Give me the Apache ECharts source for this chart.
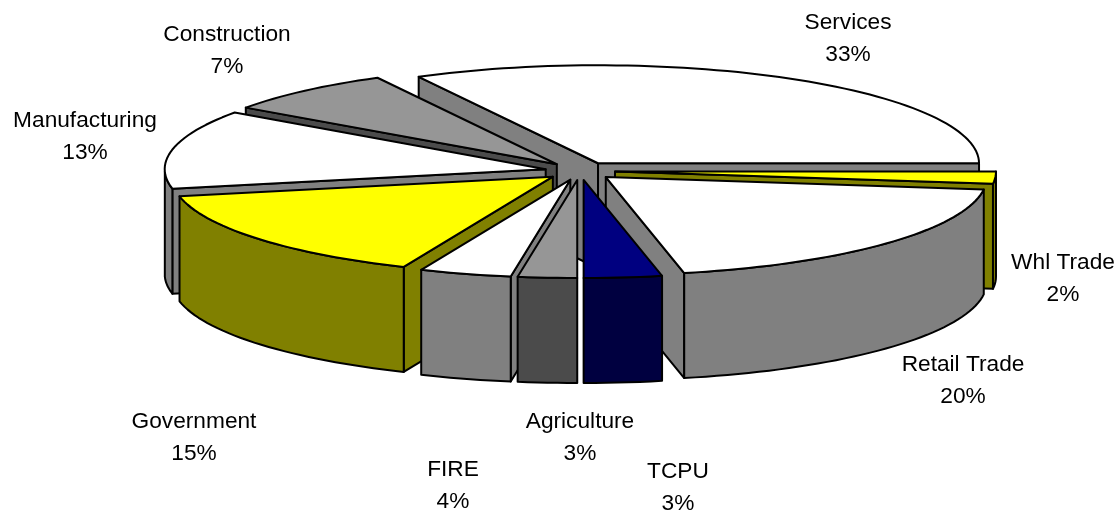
<!DOCTYPE html>
<html>
<head>
<meta charset="utf-8">
<style>html,body{margin:0;padding:0;background:#fff}#chart{width:1117px;height:512px}</style>
<script src="https://cdn.jsdelivr.net/npm/echarts@6/dist/echarts.min.js"></script>
</head>
<body>
<div id="chart"></div>
<script>
// clockwise from the east edge of the Services slice
const sectors = ['Whl Trade','Retail Trade','TCPU','Agriculture','FIRE','Government','Manufacturing','Construction','Services'];
const shares = [2,19.7,3.3,2.5,3.9,15.4,13,7.4,32.8];
const topColors = ['#ffff00','#ffffff','#000080','#969696','#ffffff','#ffff00','#ffffff','#969696','#ffffff'];
const sideColors = ['#808000','#808080','#000040','#4b4b4b','#808080','#808000','#808080','#4b4b4b','#808080'];

// pie look
const explode = 0.092;
const depth = 105;
const rx = 381, ry = 98;       // px per unit on the hidden axes
const cx = 580, cy = 171;

// label anchors (centre of the two lines)
const labelSpots = {
  'Services': [848,39], 'Whl Trade': [1063,279], 'Retail Trade': [963,381], 'TCPU': [678,488],
  'Agriculture': [580,438], 'FIRE': [453,486], 'Government': [194,438], 'Manufacturing': [85,137], 'Construction': [227,51]
};

const total = shares.reduce((a,b)=>a+b,0);
let run = 0;
const slices = shares.map((v,i)=>{
  const a0 = -run/total*Math.PI*2;
  run += v;
  const a1 = -run/total*Math.PI*2;
  return {i,a0,a1,mid:(a0+a1)/2};
});
// back to front
const drawOrder = slices.slice().sort((p,q)=>Math.sin(q.mid)-Math.sin(p.mid));

function renderSlice(params, api){
  const s = slices[api.value(0)];
  const ox = explode*Math.cos(s.mid), oy = explode*Math.sin(s.mid);
  const pt = (a,r)=>api.coord([ox+r*Math.cos(a), oy+r*Math.sin(a)]);
  const down = p=>[p[0],p[1]+depth];
  const line = {stroke:'#000',lineWidth:2,lineJoin:'round'};
  const kids = [];
  const side = sideColors[s.i], top = topColors[s.i];
  const apex = pt(0,0);

  const wall = (a)=>{
    const e = pt(a,1);
    kids.push({type:'polygon',shape:{points:[apex,e,down(e),down(apex)]},style:{fill:side,...line}});
  };
  // radial walls, only those turned to the viewer
  if(Math.cos(s.a0)<-0.001) wall(s.a0);
  if(Math.cos(s.a1)>0.001) wall(s.a1);

  // outer wall, front half only
  const arc = [];
  const n = Math.max(4,Math.ceil((s.a0-s.a1)/0.03));
  for(let k=0;k<=n;k++) arc.push(s.a0+(s.a1-s.a0)*k/n);
  const edge = arc.filter(a=>Math.sin(a)<=0.001).map(a=>pt(a,1));
  if(edge.length>1){
    kids.push({type:'polygon',shape:{points:edge.concat(edge.slice().reverse().map(down))},style:{fill:side,...line}});
  }
  kids.push({type:'polygon',shape:{points:[apex].concat(arc.map(a=>pt(a,1)))},style:{fill:top,...line}});
  return {type:'group',children:kids};
}

const chart = echarts.init(document.getElementById('chart'),null,{renderer:'canvas'});
chart.setOption({
  animation:false,
  backgroundColor:'#fff',
  grid:{left:0,right:0,top:0,bottom:0},
  xAxis:{type:'value',min:-cx/rx,max:(1117-cx)/rx,show:false},
  yAxis:{type:'value',min:(cy-512)/ry,max:cy/ry,show:false},
  series:[{
    type:'custom',
    coordinateSystem:'cartesian2d',
    clip:false,
    renderItem:renderSlice,
    encode:{x:0,y:0},
    data:drawOrder.map(s=>[s.i])
  }],
  graphic:sectors.map((name,i)=>({
    type:'text',
    x:labelSpots[name][0],
    y:labelSpots[name][1],
    style:{
      text:name+'\n'+Math.round(shares[i])+'%',
      font:'22.7px "Liberation Sans", Arial, sans-serif',
      lineHeight:32,
      fill:'#000',
      align:'center',
      verticalAlign:'middle'
    }
  }))
});
</script>
</body>
</html>
